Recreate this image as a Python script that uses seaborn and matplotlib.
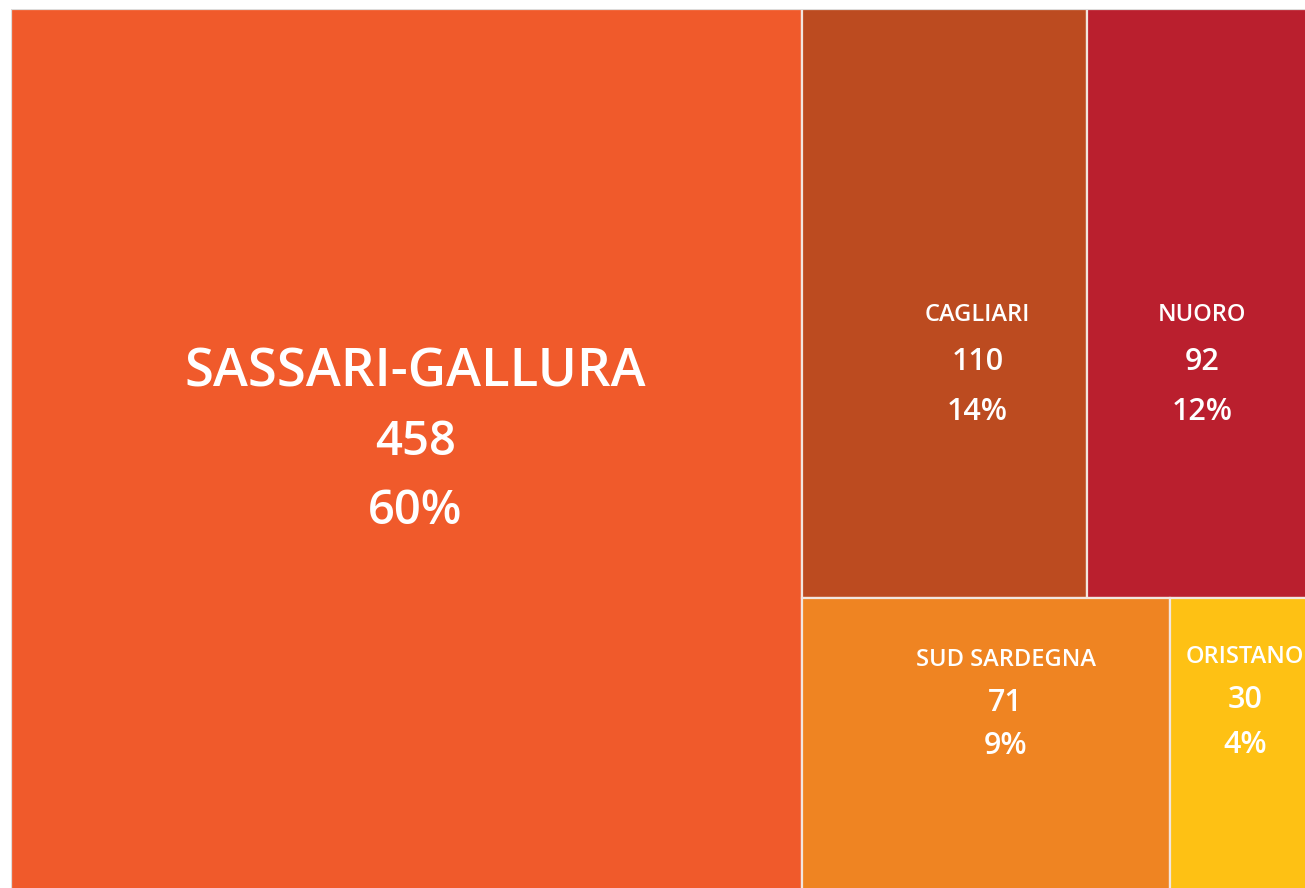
import matplotlib
matplotlib.use("Agg")
import matplotlib.pyplot as plt
from matplotlib.patches import Rectangle
import seaborn as sns

# ---- data ----
regions = ["SASSARI-GALLURA", "CAGLIARI", "NUORO", "SUD SARDEGNA", "ORISTANO"]
counts = [458, 110, 92, 71, 30]
percents = ["60%", "14%", "12%", "9%", "4%"]
colors = ["#F05A2B", "#BC4B20", "#BA1F2E", "#EF8422", "#FEC114"]

sns.set_theme(style="white")
plt.rcParams['font.family'] = ['Open Sans', 'DejaVu Sans']

W, H = 1314.0, 883.0
total = sum(counts)

# layout: first item takes a vertical slice; remaining split into two rows
rects = []
x0 = 0.0
w0 = W * counts[0] / total
rects.append((x0, 0.0, w0, H))
rest = counts[1:]
rest_total = sum(rest)
rw = W - w0
rows = [rest[:2], rest[2:]]
y = 0.0
for row in rows:
    rh = H * sum(row) / rest_total
    x = w0
    for v in row:
        cw = rw * v / sum(row)
        rects.append((x, y, cw, rh))
        x += cw
    y += rh

fig = plt.figure(figsize=(13.05, 8.88), dpi=100)
ax = fig.add_axes([11 / 1305, (888 - 892) / 888, W / 1305, H / 888])
ax.set_xlim(0, W)
ax.set_ylim(H, 0)
ax.axis("off")

for (x, y, w, h), c in zip(rects, colors):
    ax.add_patch(Rectangle((x, y), w, h, facecolor=c, edgecolor="#F2E6DF", linewidth=1.6))
ax.add_patch(Rectangle((0, 0), W, H, facecolor="none", edgecolor="#D9D9D9", linewidth=1.2))

# label styling (positions relative to rect, in pixels)
styles = [
    dict(dx=9, ys=(364, 433, 502), sizes=(38, 34, 34)),
    dict(dx=33, ys=(306, 353, 403), sizes=(17, 22, 22)),
    dict(dx=-4, ys=(306, 353, 403), sizes=(17, 22, 22)),
    dict(dx=20, ys=(62, 105, 148), sizes=(17, 22, 22)),
    dict(dx=-2, ys=(59, 102, 147), sizes=(17, 22, 22)),
]
for (x, y, w, h), name, n, p, st in zip(rects, regions, counts, percents, styles):
    cx = x + w / 2 + st["dx"]
    for txt, yy, fs in zip((name, str(n), p), st["ys"], st["sizes"]):
        ax.text(cx, y + yy, txt, ha="center", va="center", color="white",
                fontsize=fs, fontweight="semibold", clip_on=False)

fig.savefig("out.png", dpi=100)
